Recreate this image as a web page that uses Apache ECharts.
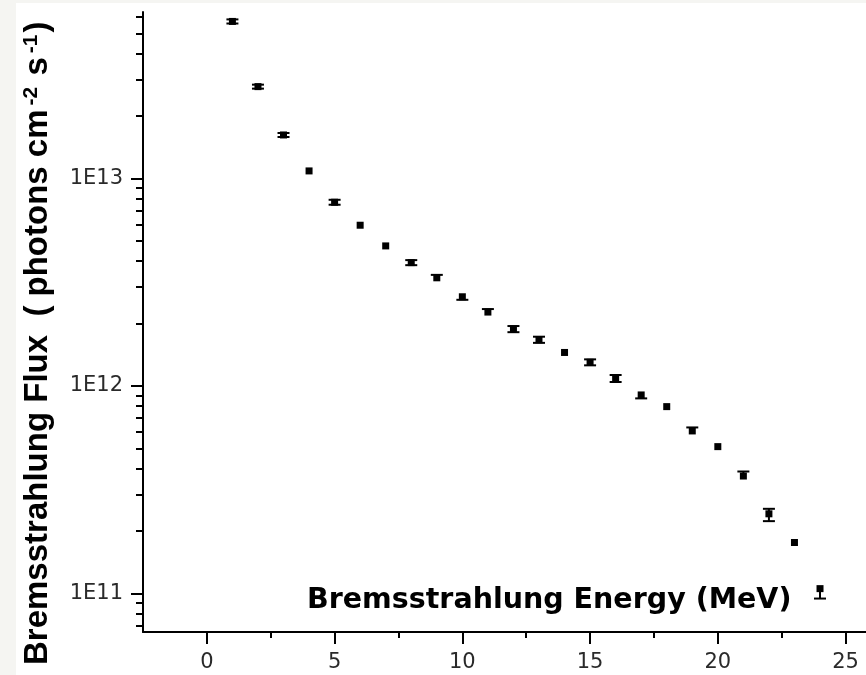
<!DOCTYPE html>
<html>
<head>
<meta charset="utf-8">
<script src="https://cdn.jsdelivr.net/npm/echarts@6/dist/echarts.min.js"></script>
<style>
  html, body { margin: 0; padding: 0; background: #f5f5f2; }
  #chart { width: 866px; height: 675px; }
</style>
</head>
<body>
<div id="chart"></div>
<script>
// Bremsstrahlung photon flux versus photon energy
const energy = [1, 2, 3, 4, 5, 6, 7, 8, 9, 10, 11, 12, 13, 14, 15, 16, 17, 18, 19, 20, 21, 22, 23, 24];
const flux = [
  5.71e13, 2.77e13, 1.62e13, 1.087e13, 7.68e12, 5.95e12, 4.73e12, 3.93e12,
  3.32e12, 2.69e12, 2.27e12, 1.88e12, 1.67e12, 1.45e12, 1.30e12, 1.087e12,
  9.05e11, 7.95e11, 6.07e11, 5.10e11, 3.68e11, 2.42e11, 1.76e11, 1.055e11
];
// lower / upper uncertainty of each flux value (0 = no bar drawn)
const fluxErrMinus = [
  1.3e12, 6.1e11, 3.6e11, 0, 2.1e11, 0, 0, 1.1e11,
  0, 8.9e10, 0, 6.4e10, 5.7e10, 0, 4.3e10, 4.2e10,
  3.4e10, 0, 0, 0, 0, 1.89e10, 0, 1.1e10
];
const fluxErrPlus = [
  1.3e12, 6.1e11, 3.6e11, 0, 2.1e11, 0, 0, 1.1e11,
  1.1e11, 0, 7.7e10, 6.4e10, 5.7e10, 0, 4.3e10, 4.2e10,
  0, 0, 2.4e10, 0, 1.9e10, 1.38e10, 0, 0
];

const xMajorTicks = [0, 5, 10, 15, 20, 25];
const xMinorTicks = [2.5, 7.5, 12.5, 17.5, 22.5];
const yMajorTicks = [1e11, 1e12, 1e13];
const yTickLabels = ['1E11', '1E12', '1E13'];
const yMinorTicks = [
  7e10, 8e10, 9e10,
  2e11, 3e11, 4e11, 5e11, 6e11, 7e11, 8e11, 9e11,
  2e12, 3e12, 4e12, 5e12, 6e12, 7e12, 8e12, 9e12,
  2e13, 3e13, 4e13, 5e13, 6e13
];

const xTitle = 'Bremsstrahlung Energy (MeV)';
const yTitle = 'Bremsstrahlung Flux  ( photons cm{sup|-2} s{sup|-1})';

const X_MIN = -2.5, X_MAX = 25.8;
const Y_MIN = 6.52e10, Y_MAX = 6.34e13;

const tickFont = { fontFamily: 'DejaVu Sans', fontSize: 21, color: '#2a2a2a' };
const axisLineStyle = { color: '#000', width: 2 };

const chart = echarts.init(document.getElementById('chart'));

const errorData = energy.map((e, i) => [e, flux[i], fluxErrMinus[i], fluxErrPlus[i]]);
const pointData = energy.map((e, i) => [e, flux[i]]);

chart.setOption({
  animation: false,
  backgroundColor: '#f5f5f2',
  grid: { left: 143, right: 0, top: 12, bottom: 43, containLabel: false },
  xAxis: [
    {
      type: 'value', min: X_MIN, max: X_MAX, position: 'bottom',
      axisLine: { show: true, onZero: false, lineStyle: axisLineStyle },
      axisTick: { show: true, inside: false, length: 12, customValues: xMajorTicks,
                  lineStyle: { color: '#000', width: 2 } },
      axisLabel: { show: true, customValues: xMajorTicks, margin: 20, ...tickFont },
      splitLine: { show: false }
    },
    {
      type: 'value', min: X_MIN, max: X_MAX, position: 'bottom',
      axisLine: { show: false, onZero: false },
      axisTick: { show: true, inside: false, length: 6, customValues: xMinorTicks,
                  lineStyle: { color: '#000', width: 2 } },
      axisLabel: { show: false },
      splitLine: { show: false }
    }
  ],
  yAxis: [
    {
      type: 'log', logBase: 10, min: Y_MIN, max: Y_MAX, position: 'left',
      axisLine: { show: true, onZero: false, lineStyle: axisLineStyle },
      axisTick: { show: true, inside: false, length: 12, customValues: yMajorTicks,
                  lineStyle: { color: '#000', width: 2 } },
      axisLabel: {
        show: true, customValues: yMajorTicks, margin: 20, ...tickFont,
        formatter: (v) => {
          const i = yMajorTicks.findIndex(t => Math.abs(t - v) / t < 1e-6);
          return i >= 0 ? yTickLabels[i] : '';
        }
      },
      splitLine: { show: false }
    },
    {
      type: 'log', logBase: 10, min: Y_MIN, max: Y_MAX, position: 'left',
      axisLine: { show: false, onZero: false },
      axisTick: { show: true, inside: false, length: 7, customValues: yMinorTicks,
                  lineStyle: { color: '#000', width: 2 } },
      axisLabel: { show: false },
      splitLine: { show: false }
    }
  ],
  graphic: [
    {
      type: 'rect', z: -10, silent: true,
      shape: { x: 16, y: 3, width: 850, height: 672 },
      style: { fill: '#ffffff' }
    },
    {
      type: 'text', x: 307, y: 601, silent: true,
      style: {
        text: xTitle, fill: '#000',
        font: 'bold 28.5px "DejaVu Sans"',
        align: 'left', verticalAlign: 'middle'
      }
    },
    {
      type: 'text', x: 37.5, y: 665, rotation: Math.PI / 2, silent: true,
      style: {
        text: yTitle, fill: '#000',
        font: 'bold 33px "Liberation Sans", Arial, sans-serif',
        align: 'left', verticalAlign: 'middle',
        rich: {
          sup: {
            fontFamily: '"Liberation Sans", Arial, sans-serif',
            fontWeight: 'bold', fontSize: 21, verticalAlign: 'top', fill: '#000',
            padding: [0, 2, 0, 4]
          }
        }
      }
    }
  ],
  series: [
    {
      type: 'custom', name: 'error', xAxisIndex: 0, yAxisIndex: 0,
      data: errorData, encode: { x: 0, y: 1 }, silent: true, z: 3,
      renderItem: (params, api) => {
        const x = api.value(0), v = api.value(1), lo = api.value(2), hi = api.value(3);
        const c = api.coord([x, v]);
        const top = api.coord([x, v + hi]);
        const bot = api.coord([x, v - lo]);
        const half = 6;
        const style = { stroke: '#000', lineWidth: 2 };
        const children = [];
        if (lo > 0 || hi > 0) {
          children.push({ type: 'line', shape: { x1: c[0], y1: top[1], x2: c[0], y2: bot[1] }, style });
        }
        if (hi > 0) {
          children.push({ type: 'line', shape: { x1: c[0] - half, y1: top[1], x2: c[0] + half, y2: top[1] }, style });
        }
        if (lo > 0) {
          children.push({ type: 'line', shape: { x1: c[0] - half, y1: bot[1], x2: c[0] + half, y2: bot[1] }, style });
        }
        return { type: 'group', children };
      }
    },
    {
      type: 'scatter', name: 'flux', xAxisIndex: 0, yAxisIndex: 0,
      data: pointData, symbol: 'rect', symbolSize: 7, z: 4,
      itemStyle: { color: '#000', opacity: 1 }
    }
  ]
});
</script>
</body>
</html>
